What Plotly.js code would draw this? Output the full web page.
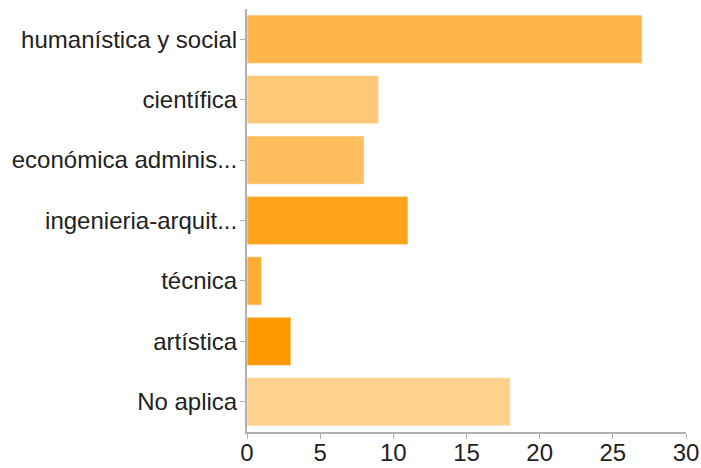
<!DOCTYPE html>
<html>
<head>
<meta charset="utf-8">
<script src="https://cdn.plot.ly/plotly-3.0.1.min.js"></script>
<style>html,body{margin:0;padding:0;background:#fff;}#chart{width:701px;height:468px;}</style>
</head>
<body>
<div id="chart"></div>
<script>
const categories = ["humanística y social", "científica", "económica adminis...", "ingenieria-arquit...", "técnica", "artística", "No aplica"];
const values = [27, 9, 8, 11, 1, 3, 18];
const barColors = ["#FFB54A", "#FFC878", "#FFBD5E", "#FFA31C", "#FFAB33", "#FF9900", "#FFD18D"];
const xTicks = [0, 5, 10, 15, 20, 25, 30];

const trace = {
  type: "bar",
  orientation: "h",
  y: categories,
  x: values,
  marker: {color: barColors, line: {color: "rgba(255,255,255,0.6)", width: 1}},
  hoverinfo: "none"
};

const layout = {
  width: 701,
  height: 468,
  margin: {l: 247, r: 15, t: 9, b: 36},
  paper_bgcolor: "#fff",
  plot_bgcolor: "#fff",
  bargap: 0.2,
  showlegend: false,
  font: {family: "Liberation Sans, Arial, sans-serif", size: 24, color: "#222"},
  xaxis: {
    range: [0, 30],
    tickvals: xTicks,
    ticktext: xTicks.map(String),
    showgrid: false,
    zeroline: false,
    showline: true,
    linecolor: "#b0b0b0",
    linewidth: 2,
    ticks: "outside",
    ticklen: 5,
    tickcolor: "#b0b0b0",
    tickwidth: 1,
    ticklabelstandoff: -7,
    tickfont: {size: 24, color: "#222"},
    fixedrange: true
  },
  yaxis: {
    autorange: "reversed",
    showgrid: false,
    zeroline: false,
    showline: true,
    linecolor: "#b0b0b0",
    linewidth: 2,
    ticks: "outside",
    ticklen: 5,
    tickcolor: "#b0b0b0",
    tickwidth: 1,
    ticklabelstandoff: -2,
    tickfont: {size: 24, color: "#222"},
    fixedrange: true
  }
};

Plotly.newPlot("chart", [trace], layout, {displayModeBar: false, staticPlot: true});
</script>
</body>
</html>
